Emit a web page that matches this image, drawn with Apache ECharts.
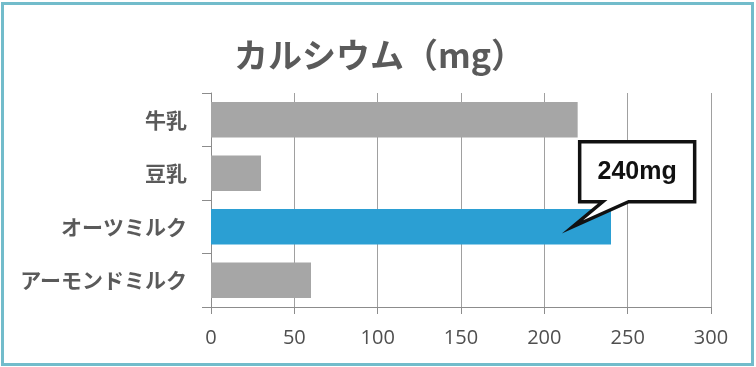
<!DOCTYPE html>
<html><head><meta charset="utf-8">
<script src="https://cdn.jsdelivr.net/npm/echarts@6/dist/echarts.min.js"></script>
<style>html,body{margin:0;padding:0;background:#fff;}#c{width:756px;height:367px;}</style>
</head><body><div id="c"></div>
<script>
const categories = ['牛乳', '豆乳', 'オーツミルク', 'アーモンドミルク'];
const calcium = [220, 30, 240, 60];
const highlightIndex = 2;
const xTicks = [0, 50, 100, 150, 200, 250, 300];
const calloutText = '240mg';
const calloutAnchor = [217, 'オーツミルク'];

const chart = echarts.init(document.getElementById('c'), null, {renderer: 'canvas'});
const option = {
  animation: false,
  backgroundColor: '#fff',
  title: {
    text: 'カルシウム（mg）',
    left: 229, top: 30,
    textStyle: {fontFamily: 'Noto Sans CJK JP', fontWeight: 'bold', fontSize: 34, lineHeight: 40, color: '#5a5a5a'}
  },
  grid: {left: 211, right: 45, top: 93, bottom: 60},
  xAxis: {
    type: 'value', min: xTicks[0], max: xTicks[xTicks.length - 1], interval: 50,
    axisLine: {show: true, lineStyle: {color: '#8c8c8c', width: 1}},
    axisTick: {show: true, length: 7, lineStyle: {color: '#8c8c8c'}},
    splitLine: {show: true, lineStyle: {color: '#a0a0a0', width: 1}},
    axisLabel: {margin: 21, fontFamily: 'Open Sans', fontSize: 20, color: '#4f4f4f'}
  },
  yAxis: {
    type: 'category', data: categories, inverse: true,
    axisLine: {show: true, lineStyle: {color: '#8c8c8c', width: 1}},
    axisTick: {show: true, length: 9, lineStyle: {color: '#8c8c8c'}},
    axisLabel: {margin: 24, fontFamily: 'Noto Sans CJK JP', fontWeight: 'bold', fontSize: 21, color: '#5a5a5a'}
  },
  series: [{
    type: 'bar',
    barCategoryGap: '34%',
    data: calcium.map((v, i) => ({value: v, itemStyle: {color: i === highlightIndex ? '#2b9fd3' : '#a6a6a6'}}))
  }]
};
chart.setOption(option);

const p = chart.convertToPixel({gridIndex: 0}, calloutAnchor);
const ax = p[0], ay = p[1];
chart.setOption({
  graphic: [
    {type: 'rect', z: 100, shape: {x: 2.5, y: 3.5, width: 750, height: 361}, style: {fill: 'none', stroke: '#72bccb', lineWidth: 3}, silent: true},
    {type: 'group', z: 100, x: ax, y: ay, children: [
      {type: 'polygon', z: 100, shape: {points: [[7,-85],[122,-85],[122,-25],[56,-25],[0,0],[30,-25],[7,-25]]},
        style: {fill: '#fff', stroke: '#111', lineWidth: 3.5, lineJoin: 'miter'}},
      {type: 'text', z: 101, x: 64.5, y: -55, style: {text: calloutText, fontFamily: 'Liberation Sans', fontWeight: 'bold', fontSize: 25, fill: '#111', align: 'center', verticalAlign: 'middle'}}
    ]}
  ]
});
</script></body></html>
